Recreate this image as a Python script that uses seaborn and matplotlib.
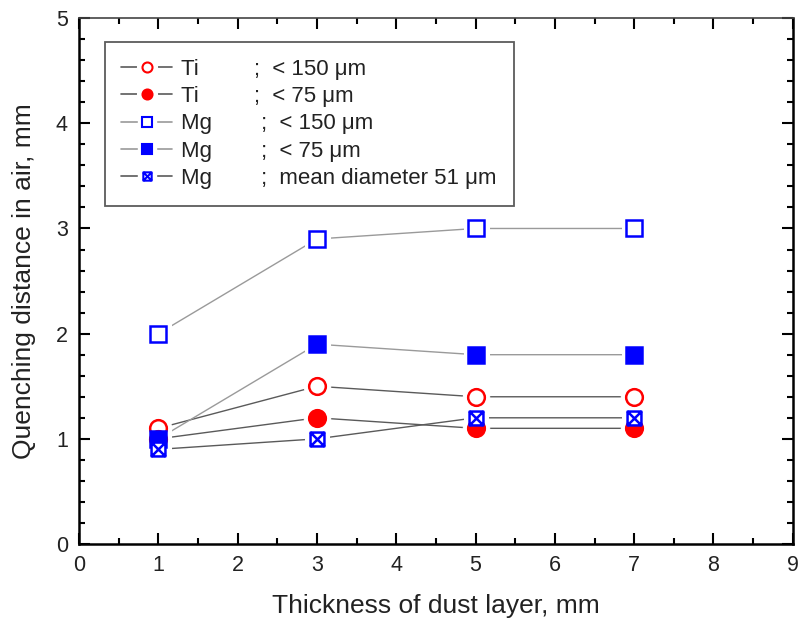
import numpy as np
import pandas as pd
import matplotlib
matplotlib.use("Agg")
import matplotlib.pyplot as plt
import seaborn as sns
from matplotlib.path import Path
from matplotlib.lines import Line2D
from matplotlib.legend_handler import HandlerTuple
from matplotlib.ticker import MultipleLocator

# ---- data ----
thickness = [1, 3, 5, 7]
ti_150 = [1.1, 1.5, 1.4, 1.4]
ti_75 = [1.0, 1.2, 1.1, 1.1]
mg_150 = [2.0, 2.9, 3.0, 3.0]
mg_75 = [1.0, 1.9, 1.8, 1.8]
mg_51 = [0.9, 1.0, 1.2, 1.2]

series_labels = [
    "Ti         ;  < 150 μm",
    "Ti         ;  < 75 μm",
    "Mg        ;  < 150 μm",
    "Mg        ;  < 75 μm",
    "Mg        ;  mean diameter 51 μm",
]
x_label = "Thickness of dust layer, mm"
y_label = "Quenching distance in air, mm"

sns.set_theme(style="white")
plt.rcParams["font.family"] = ["Liberation Sans", "DejaVu Sans"]

# crossed-square marker
boxx = Path(
    [(-1, -1), (1, -1), (1, 1), (-1, 1), (-1, -1), (-1, -1), (1, 1), (-1, 1), (1, -1)],
    [Path.MOVETO, Path.LINETO, Path.LINETO, Path.LINETO, Path.CLOSEPOLY,
     Path.MOVETO, Path.LINETO, Path.MOVETO, Path.LINETO],
)

RED = "#ff0000"
BLUE = "#0000ff"
styles = [
    dict(vals=ti_150, marker="o", fc="white", ec=RED, lc="#5a5a5a", ms=12),
    dict(vals=ti_75, marker="o", fc=RED, ec=RED, lc="#5a5a5a", ms=12),
    dict(vals=mg_150, marker="s", fc="white", ec=BLUE, lc="#9a9a9a", ms=11),
    dict(vals=mg_75, marker="s", fc=BLUE, ec=BLUE, lc="#9a9a9a", ms=11),
    dict(vals=mg_51, marker=boxx, fc="white", ec=BLUE, lc="#5a5a5a", ms=10),
]

fig = plt.figure(figsize=(8.02, 6.18), dpi=100)
ax = fig.add_axes([0.0985, 0.1197, 0.890, 0.851])

for st in styles:
    df = pd.DataFrame({"x": thickness, "y": st["vals"]})
    sns.lineplot(data=df, x="x", y="y", ax=ax, color=st["lc"], lw=1.0,
                 zorder=2, legend=False)
for st in styles:
    df = pd.DataFrame({"x": thickness, "y": st["vals"]})
    sns.lineplot(data=df, x="x", y="y", ax=ax, linestyle="none",
                 marker="s" if st["marker"] is boxx else st["marker"],
                 markersize=st["ms"] + 7, markerfacecolor="white",
                 markeredgecolor="white", zorder=3, legend=False)
for st in styles:
    df = pd.DataFrame({"x": thickness, "y": st["vals"]})
    sns.lineplot(data=df, x="x", y="y", ax=ax, linestyle="none",
                 marker=st["marker"], markersize=st["ms"],
                 markerfacecolor=st["fc"], markeredgecolor=st["ec"],
                 markeredgewidth=1.8, zorder=4, legend=False)

ax.set_xlim(0, 9)
ax.set_ylim(0, 5)
ax.xaxis.set_major_locator(MultipleLocator(1))
ax.xaxis.set_minor_locator(MultipleLocator(0.5))
ax.yaxis.set_major_locator(MultipleLocator(1))
ax.yaxis.set_minor_locator(MultipleLocator(0.2))
ax.tick_params(which="both", direction="in", top=True, right=True,
               bottom=True, left=True, color="black")
ax.tick_params(which="major", length=8, width=1.5, labelsize=15.5, pad=8,
               labelcolor="#222222")
ax.tick_params(which="minor", length=4.5, width=1.5)
for s in ax.spines.values():
    s.set_color("black")
    s.set_linewidth(1.8)
ax.spines["top"].set_linewidth(1.2)
ax.spines["top"].set_color("#444444")

ax.set_xlabel(x_label, fontsize=19, labelpad=13, color="#222222")
ax.set_ylabel(y_label, fontsize=19, labelpad=14, color="#222222")

handles = []
for st in styles:
    ln = Line2D([], [], color=st["lc"], lw=1.2)
    halo = Line2D([], [], linestyle="none",
                  marker="s" if st["marker"] is boxx else st["marker"],
                  markersize=st["ms"] * 0.6 + 7, markerfacecolor="white",
                  markeredgecolor="white")
    mk = Line2D([], [], linestyle="none", marker=st["marker"],
                markersize=st["ms"] * 0.6, markerfacecolor=st["fc"],
                markeredgecolor=st["ec"], markeredgewidth=1.5)
    handles.append((ln, halo, mk))

leg = ax.legend(handles, series_labels,
                handler_map={tuple: HandlerTuple(ndivide=1, pad=0)},
                loc="upper left", bbox_to_anchor=(0.036, 0.954), fontsize=16,
                frameon=True, fancybox=False, edgecolor="#333333",
                handlelength=2.3, handletextpad=0.4, labelspacing=0.28,
                borderpad=0.75, borderaxespad=0)
leg.get_frame().set_linewidth(1.3)
for t in leg.get_texts():
    t.set_color("#222222")

fig.savefig("out.png", dpi=100, facecolor="white")
